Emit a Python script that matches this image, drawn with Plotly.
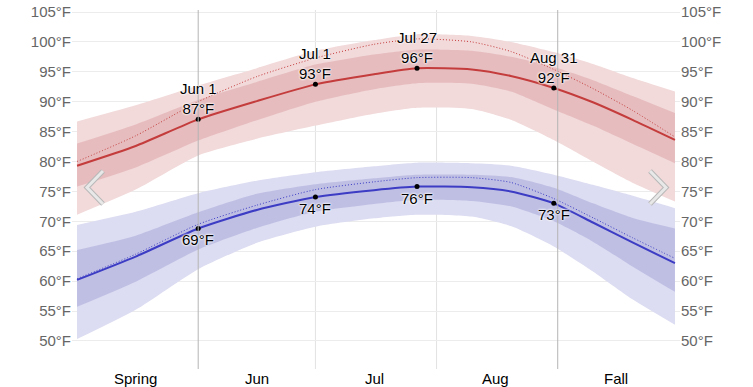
import plotly.graph_objects as go

# ---------------- data ----------------
dates = ["2023-05-01", "2023-05-16", "2023-06-01", "2023-06-16", "2023-07-01",
         "2023-07-16", "2023-07-27", "2023-08-10", "2023-08-20", "2023-08-31",
         "2023-09-10", "2023-09-20", "2023-10-01"]

hi_mean = [79.3, 82.6, 87.05, 90.1, 92.9, 94.6, 95.6, 95.4, 94.3, 92.3, 89.9, 87.0, 83.6]
hi_perc = [80.0, 84.3, 90.0, 94.2, 97.3, 99.6, 100.5, 100.0, 98.4, 95.4, 92.2, 88.6, 84.1]
hi_p90 = [86.7, 89.4, 92.7, 95.6, 98.5, 100.3, 101.3, 101.0, 100.0, 98.3, 96.3, 94.0, 91.7]
hi_p75 = [83.0, 86.2, 90.3, 93.3, 96.2, 97.9, 98.7, 98.5, 97.5, 95.8, 93.6, 91.0, 88.1]
hi_p25 = [75.8, 79.0, 83.5, 86.9, 90.0, 92.1, 93.1, 93.0, 91.7, 88.7, 86.0, 83.0, 79.7]
hi_p10 = [71.1, 75.3, 81.0, 83.8, 86.0, 88.0, 89.0, 88.8, 87.0, 83.6, 80.0, 76.5, 73.3]

lo_mean = [60.2, 64.1, 68.8, 71.9, 74.06, 75.2, 75.8, 75.7, 75.0, 73.0, 69.8, 66.5, 63.0]
lo_perc = [60.4, 64.5, 69.5, 72.7, 75.3, 76.6, 77.3, 77.3, 76.5, 73.8, 70.6, 67.3, 63.8]
lo_p90 = [69.4, 71.6, 74.7, 76.8, 78.2, 79.2, 79.8, 79.7, 79.3, 77.8, 76.1, 74.3, 72.2]
lo_p75 = [65.2, 67.6, 71.5, 74.6, 76.2, 77.2, 77.8, 77.8, 77.4, 75.6, 73.0, 70.6, 68.8]
lo_p25 = [55.7, 59.9, 65.3, 68.9, 71.6, 72.9, 73.6, 73.4, 72.5, 70.0, 66.6, 62.5, 58.2]
lo_p10 = [50.3, 55.2, 62.0, 66.4, 69.1, 70.5, 71.1, 70.8, 69.2, 65.8, 61.6, 57.0, 52.7]

key_idx = [2, 4, 6, 9]                     # Jun 1, Jul 1, Jul 27, Aug 31
key_names = ["Jun 1", "Jul 1", "Jul 27", "Aug 31"]
hi_labels = [87, 93, 96, 92]
lo_labels = [69, 74, 76, 73]

month_lines = ["2023-06-01", "2023-07-01", "2023-08-01", "2023-09-01"]
season_lines = ["2023-06-01", "2023-09-01"]
label_dates = ["2023-05-16", "2023-06-16", "2023-07-16", "2023-08-16", "2023-09-16"]
label_text = ["Spring", "Jun", "Jul", "Aug", "Fall"]
y_ticks = list(range(50, 106, 5))
y_text = [f"{v}°F" for v in y_ticks]

# ---------------- style ----------------
FONT = "Liberation Sans, Arial, Helvetica, sans-serif"
RED = "#c43c3c"
BLUE = "#3c3cc4"
RED_L = "#f2d9da"
RED_D = "#e6bcbe"
BLUE_L = "#dcdcf2"
BLUE_D = "#bfbfe4"

fig = go.Figure()
SM = 0.6


def band(lo, hi, color):
    fig.add_trace(go.Scatter(x=dates, y=lo, mode="lines", line=dict(width=0, shape="spline", smoothing=SM),
                             hoverinfo="skip", showlegend=False))
    fig.add_trace(go.Scatter(x=dates, y=hi, mode="lines", line=dict(width=0, shape="spline", smoothing=SM),
                             fill="tonexty", fillcolor=color, hoverinfo="skip", showlegend=False))


band(hi_p10, hi_p90, RED_L)
band(hi_p25, hi_p75, RED_D)
band(lo_p10, lo_p90, BLUE_L)
band(lo_p25, lo_p75, BLUE_D)

fig.add_trace(go.Scatter(x=dates, y=hi_perc, mode="lines",
                         line=dict(color=RED, width=1, dash="1px,2px", shape="spline", smoothing=SM),
                         showlegend=False))
fig.add_trace(go.Scatter(x=dates, y=lo_perc, mode="lines",
                         line=dict(color=BLUE, width=1, dash="1px,2px", shape="spline", smoothing=SM),
                         showlegend=False))
fig.add_trace(go.Scatter(x=dates, y=hi_mean, mode="lines",
                         line=dict(color=RED, width=2, shape="spline", smoothing=SM), showlegend=False))
fig.add_trace(go.Scatter(x=dates, y=lo_mean, mode="lines",
                         line=dict(color=BLUE, width=2, shape="spline", smoothing=SM), showlegend=False))

key_x = [dates[i] for i in key_idx]
key_hi = [hi_mean[i] for i in key_idx]
key_lo = [lo_mean[i] for i in key_idx]
fig.add_trace(go.Scatter(x=key_x, y=key_hi, mode="markers", marker=dict(color="black", size=5),
                         showlegend=False))
fig.add_trace(go.Scatter(x=key_x, y=key_lo, mode="markers", marker=dict(color="black", size=5),
                         showlegend=False))

# invisible trace to activate right axis
fig.add_trace(go.Scatter(x=[dates[0]], y=[y_ticks[0]], yaxis="y2", mode="markers",
                         marker=dict(opacity=0), hoverinfo="skip", showlegend=False))

shapes = []
for d in month_lines:
    col = "#b4b4b4" if d in season_lines else "#e2e2e2"
    shapes.append(dict(type="line", xref="x", yref="paper", x0=d, x1=d, y0=0, y1=1,
                       line=dict(color=col, width=1), layer="above" if d in season_lines else "below"))

# plot area in page pixels (body margin removed by post script)
W, H = 753, 387
Lp, Rp, Tp, Bp = 72, 680, 10, 369


def px(x):
    return (x - Lp) / (Rp - Lp)


def py(y):
    return 1 - (y - Tp) / (Bp - Tp)


def chevron(pts):
    return "M {} {} L {} {} L {} {}".format(px(pts[0][0]), py(pts[0][1]), px(pts[1][0]), py(pts[1][1]),
                                            px(pts[2][0]), py(pts[2][1]))


for pts in ([(103, 171), (87, 187.5), (103, 204)], [(650, 171), (666, 187.5), (650, 204)]):
    p = chevron(pts)
    shapes.append(dict(type="path", path=p, xref="paper", yref="paper",
                       line=dict(color="#b8b8b8", width=5), layer="above"))
    shapes.append(dict(type="path", path=p, xref="paper", yref="paper",
                       line=dict(color="#e8e8e8", width=3), layer="above"))

shadow = "0 0 2px white, 0 0 2px white, 0 0 3px white"
lab_font = dict(family=FONT, size=15, color="black", shadow=shadow)
annotations = [dict(x=d, y=0, xref="x", yref="paper", text=t, showarrow=False, yanchor="middle",
                    yshift=-(378 - Bp), font=dict(family=FONT, size=15, color="black"))
               for d, t in zip(label_dates, label_text)]
for x, y, n, v in zip(key_x, key_hi, key_names, hi_labels):
    annotations.append(dict(x=x, y=y, xref="x", yref="y", text=f"{n}<br>{v}°F", showarrow=False,
                            yanchor="bottom", yshift=0, font=lab_font))
for x, y, v in zip(key_x, key_lo, lo_labels):
    annotations.append(dict(x=x, y=y, xref="x", yref="y", text=f"{v}°F", showarrow=False,
                            yanchor="top", yshift=-1, font=lab_font))

yr = [105 - (Bp - 12) / 5.98, 105 + (12 - Tp) / 5.98]

fig.update_layout(
    width=W, height=H, autosize=False,
    margin=dict(l=Lp, r=W - Rp, t=Tp, b=H - Bp, pad=0, autoexpand=False),
    paper_bgcolor="white", plot_bgcolor="white",
    font=dict(family=FONT, size=15, color="#666666"),
    shapes=shapes, annotations=annotations,
    xaxis=dict(type="date", range=["2023-04-29 17:00", "2023-10-02 07:00"],
               showticklabels=False, showgrid=False, zeroline=False,
               showline=False, ticks="", automargin=False),
    yaxis=dict(range=yr, tickmode="array", tickvals=y_ticks, ticktext=y_text, gridcolor="#ececec",
               zeroline=False, showline=False, ticks="", tickfont=dict(color="#666666", size=15),
               automargin=False, ticklabeloverflow="allow"),
    yaxis2=dict(range=yr, tickmode="array", tickvals=y_ticks, ticktext=y_text, overlaying="y", side="right",
                showgrid=False, zeroline=False, showline=False, ticks="",
                tickfont=dict(color="#666666", size=15), automargin=False, ticklabeloverflow="allow"),
)

fig.write_html("out.html", config={"displayModeBar": False, "staticPlot": True},
               post_script="document.body.style.margin='0';")
